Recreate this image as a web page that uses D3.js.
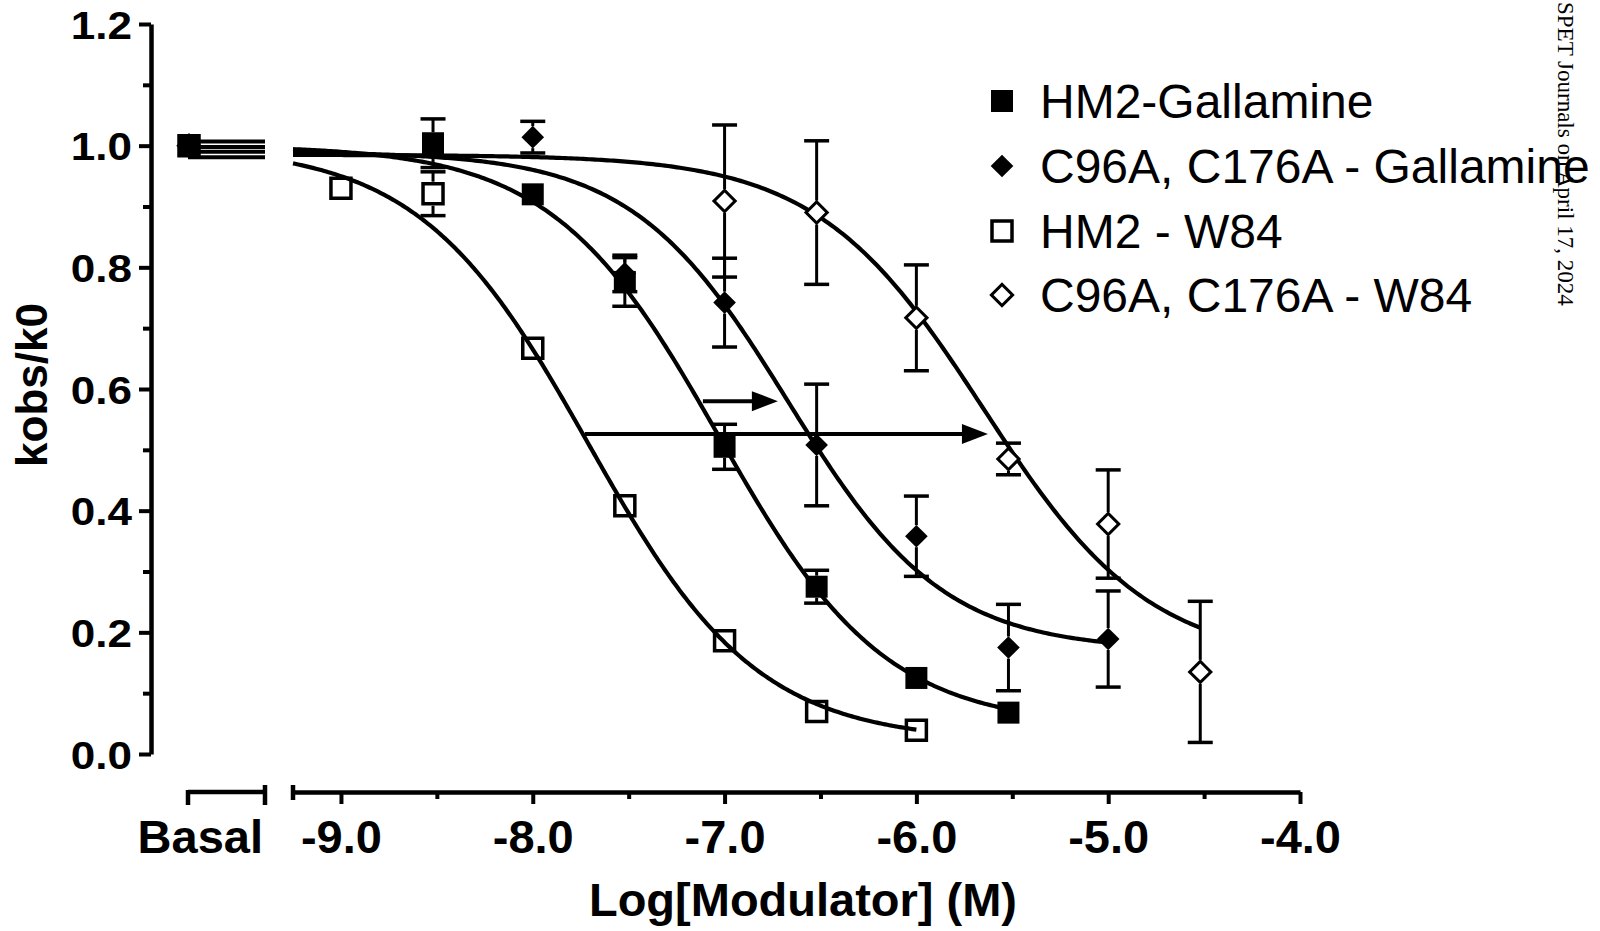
<!DOCTYPE html>
<html><head><meta charset="utf-8">
<script src="https://cdn.jsdelivr.net/npm/d3@7"></script>
<style>html,body{margin:0;padding:0;background:#fff;} svg{display:block;}</style>
</head><body><svg id="chart" width="1600" height="931"></svg>
<script>
// ---------- data ----------
const seriesNames = ["HM2-Gallamine", "C96A, C176A - Gallamine", "HM2 - W84", "C96A, C176A - W84"];
const seriesSymbols = ["squareFilled", "diamondFilled", "squareOpen", "diamondOpen"];

const hm2GalX   = [-8.52, -8.0, -7.52, -7.0, -6.52, -6.0, -5.52];
const hm2GalY   = [1.004, 0.920, 0.776, 0.505, 0.275, 0.125, 0.068];
const hm2GalErr = [0.040, 0.012, 0.040, 0.037, 0.027, 0.010, 0.008];

const c96GalX   = [-8.0, -7.52, -7.0, -6.52, -6.0, -5.52, -5.0];
const c96GalY   = [1.014, 0.790, 0.742, 0.508, 0.358, 0.175, 0.189];
const c96GalErr = [0.026, 0.030, 0.073, 0.100, 0.066, 0.071, 0.079];

const hm2W84X   = [-9.0, -8.52, -8.0, -7.52, -7.0, -6.52, -6.0];
const hm2W84Y   = [0.930, 0.921, 0.667, 0.408, 0.186, 0.070, 0.039];
const hm2W84Err = [0.0, 0.036, 0.0, 0.0, 0.0, 0.0, 0.0];

const c96W84X   = [-7.0, -6.52, -6.0, -5.52, -5.0, -4.52];
const c96W84Y   = [0.909, 0.890, 0.717, 0.485, 0.378, 0.135];
const c96W84Err = [0.125, 0.118, 0.087, 0.026, 0.089, 0.116];

const basalValues = [1.0, 1.0, 1.0, 1.0];
const basalLineValues = [1.007, 0.998, 0.990, 0.981];

// fitted sigmoid parameters
const fitTop     = [1.0, 0.99, 1.0, 0.985];
const fitBottom  = [0.045, 0.17, 0.02, 0.15];
const fitLogEC50 = [-7.03, -6.67, -7.71, -5.65];
const fitHill    = [1.0, 1.07, 0.983, 1.0];
const fitStart   = [-9.25, -9.25, -9.25, -9.25];
const fitEnd     = [-5.52, -5.0, -6.0, -4.52];

const arrowStartX = [-7.113, -7.728];
const arrowEndX   = [-6.722, -5.627];
const arrowY      = [0.580, 0.526];

const yMajorTicks = [0, 0.2, 0.4, 0.6, 0.8, 1.0, 1.2];
const yMinorTicks = [0.1, 0.3, 0.5, 0.7, 0.9, 1.1];
const xMajorTicks = [-9, -8, -7, -6, -5, -4];
const xMinorTicks = [-8.5, -7.5, -6.5, -5.5, -4.5];
const xTickLabels = ["-9.0", "-8.0", "-7.0", "-6.0", "-5.0", "-4.0"];
const basalLabel = "Basal";
const xTitle = "Log[Modulator] (M)";
const yTitle = "kobs/k0";
const watermark = "SPET Journals on April 17, 2024";

const seriesX = [hm2GalX, c96GalX, hm2W84X, c96W84X];
const seriesY = [hm2GalY, c96GalY, hm2W84Y, c96W84Y];
const seriesErr = [hm2GalErr, c96GalErr, hm2W84Err, c96W84Err];

// ---------- layout ----------
const svg = d3.select("#chart");
svg.append("rect").attr("width", 1600).attr("height", 931).attr("fill", "#fff");
const SANS = "'Liberation Sans', Arial, sans-serif";

const x = d3.scaleLinear().domain([-9.25, -4]).range([293, 1300]);
const y = d3.scaleLinear().domain([0, 1.2]).range([754, 24]);
const basalX = d3.scaleLinear().domain([0, 1]).range([188, 265]);
const xAxisY = 792;
const yAxisX = 151;

// ---------- y axis ----------
const gy = svg.append("g").attr("transform", `translate(${yAxisX},0)`);
gy.call(d3.axisLeft(y).tickValues(yMajorTicks).tickSize(12).tickSizeOuter(0)
  .tickFormat(d => d.toFixed(1)));
gy.select(".domain").attr("stroke", "#000").attr("stroke-width", 4.5);
gy.selectAll(".tick line").attr("stroke", "#000").attr("stroke-width", 4);
gy.selectAll(".tick text")
  .attr("font-family", SANS).attr("font-weight", "bold").attr("font-size", 39)
  .attr("fill", "#000").attr("text-anchor", "end")
  .attr("x", -19 / 1.13).attr("dy", "0.36em")
  .attr("transform", "scale(1.13,1)");
const gyMinor = svg.append("g").attr("transform", `translate(${yAxisX},0)`);
gyMinor.call(d3.axisLeft(y).tickValues(yMinorTicks).tickSize(8).tickSizeOuter(0).tickFormat(""));
gyMinor.select(".domain").remove();
gyMinor.selectAll(".tick line").attr("stroke", "#000").attr("stroke-width", 4);

// ---------- x axis ----------
const gx = svg.append("g").attr("transform", `translate(0,${xAxisY})`);
gx.call(d3.axisBottom(x).tickValues(xMajorTicks).tickSize(12).tickSizeOuter(0)
  .tickFormat((d, i) => xTickLabels[i]));
gx.select(".domain").attr("stroke", "#000").attr("stroke-width", 4.5);
gx.selectAll(".tick line").attr("stroke", "#000").attr("stroke-width", 4);
gx.selectAll(".tick text")
  .attr("font-family", SANS).attr("font-weight", "bold").attr("font-size", 47)
  .attr("fill", "#000").attr("y", 61).attr("dy", 0);
const gxMinor = svg.append("g").attr("transform", `translate(0,${xAxisY})`);
gxMinor.call(d3.axisBottom(x).tickValues(xMinorTicks).tickSize(7).tickSizeOuter(0).tickFormat(""));
gxMinor.select(".domain").remove();
gxMinor.selectAll(".tick line").attr("stroke", "#000").attr("stroke-width", 4);
// main segment left end cap
gx.append("line").attr("x1", x(-9.25)).attr("x2", x(-9.25)).attr("y1", -7).attr("y2", 8)
  .attr("stroke", "#000").attr("stroke-width", 4.5);

// basal segment
const gb = svg.append("g").attr("transform", `translate(0,${xAxisY})`);
gb.append("line").attr("x1", basalX(0)).attr("x2", basalX(1)).attr("y1", 0).attr("y2", 0)
  .attr("stroke", "#000").attr("stroke-width", 4.5);
gb.append("line").attr("x1", basalX(0)).attr("x2", basalX(0)).attr("y1", -2).attr("y2", 13)
  .attr("stroke", "#000").attr("stroke-width", 4.5);
gb.append("line").attr("x1", basalX(1)).attr("x2", basalX(1)).attr("y1", -7).attr("y2", 13)
  .attr("stroke", "#000").attr("stroke-width", 4.5);
gb.append("text").attr("x", basalX(1) - 2).attr("y", 61).attr("text-anchor", "end")
  .attr("font-family", SANS).attr("font-weight", "bold").attr("font-size", 47)
  .text(basalLabel);

// titles
svg.append("text").attr("x", 803).attr("y", 916).attr("text-anchor", "middle")
  .attr("font-family", SANS).attr("font-weight", "bold").attr("font-size", 47)
  .text(xTitle);
svg.append("text").attr("transform", "translate(47,385) rotate(-90)")
  .attr("text-anchor", "middle")
  .attr("font-family", SANS).attr("font-weight", "bold").attr("font-size", 44)
  .text(yTitle);

// ---------- markers ----------
function drawMarker(g, type, cx, cy) {
  if (type === "squareFilled") {
    g.append("path").attr("d", d3.symbol().type(d3.symbolSquare).size(22 * 22)())
      .attr("transform", `translate(${cx},${cy})`).attr("fill", "#000");
  } else if (type === "squareOpen") {
    g.append("path").attr("d", d3.symbol().type(d3.symbolSquare).size(20 * 20)())
      .attr("transform", `translate(${cx},${cy})`).attr("fill", "none")
      .attr("stroke", "#000").attr("stroke-width", 3.5);
  } else if (type === "diamondFilled") {
    g.append("path").attr("d", d3.symbol().type(d3.symbolSquare).size(16 * 16)())
      .attr("transform", `translate(${cx},${cy}) rotate(45)`).attr("fill", "#000");
  } else {
    g.append("path").attr("d", d3.symbol().type(d3.symbolSquare).size(15 * 15)())
      .attr("transform", `translate(${cx},${cy}) rotate(45)`).attr("fill", "#fff")
      .attr("stroke", "#000").attr("stroke-width", 3);
  }
}
const markerHalf = [11, 11, 12, 12];

// ---------- curves ----------
const gCurves = svg.append("g");
const line = d3.line().x(d => x(d[0])).y(d => y(d[1])).curve(d3.curveLinear);
for (let s = 0; s < 4; s++) {
  const pts = [];
  const n = 300;
  for (let i = 0; i <= n; i++) {
    const lx = fitStart[s] + (fitEnd[s] - fitStart[s]) * i / n;
    const v = fitBottom[s] + (fitTop[s] - fitBottom[s]) / (1 + Math.pow(10, (lx - fitLogEC50[s]) * fitHill[s]));
    pts.push([lx, v]);
  }
  gCurves.append("path").attr("d", line(pts)).attr("fill", "none")
    .attr("stroke", "#000").attr("stroke-width", 4.2);
  // basal horizontal lines
  gCurves.append("line").attr("x1", basalX(0)).attr("x2", basalX(1))
    .attr("y1", y(basalLineValues[s])).attr("y2", y(basalLineValues[s]))
    .attr("stroke", "#000").attr("stroke-width", 4);
}

// ---------- error bars and points ----------
const gPts = svg.append("g");
for (let s = 0; s < 4; s++) {
  const xs = seriesX[s], ys = seriesY[s], es = seriesErr[s];
  const h = markerHalf[s];
  for (let i = 0; i < xs.length; i++) {
    const cx = x(xs[i]), cy = y(ys[i]);
    const top = y(ys[i] + es[i]), bot = y(ys[i] - es[i]);
    if (cy - top > h + 1) {
      gPts.append("line").attr("x1", cx).attr("x2", cx).attr("y1", top).attr("y2", cy - h)
        .attr("stroke", "#000").attr("stroke-width", 3);
      gPts.append("line").attr("x1", cx - 12.5).attr("x2", cx + 12.5).attr("y1", top).attr("y2", top)
        .attr("stroke", "#000").attr("stroke-width", 3.5);
      gPts.append("line").attr("x1", cx).attr("x2", cx).attr("y1", cy + h).attr("y2", bot)
        .attr("stroke", "#000").attr("stroke-width", 3);
      gPts.append("line").attr("x1", cx - 12.5).attr("x2", cx + 12.5).attr("y1", bot).attr("y2", bot)
        .attr("stroke", "#000").attr("stroke-width", 3.5);
    }
  }
}
for (let s = 3; s >= 0; s--) {
  drawMarker(gPts, seriesSymbols[s], basalX(0) + 1, y(basalValues[s]));
}
for (let s = 0; s < 4; s++) {
  const xs = seriesX[s], ys = seriesY[s];
  for (let i = 0; i < xs.length; i++) drawMarker(gPts, seriesSymbols[s], x(xs[i]), y(ys[i]));
}

// ---------- arrows ----------
const gArr = svg.append("g");
for (let a = 0; a < arrowStartX.length; a++) {
  const x0 = x(arrowStartX[a]), x1 = x(arrowEndX[a]), ay = y(arrowY[a]);
  gArr.append("line").attr("x1", x0).attr("x2", x1 - 20).attr("y1", ay).attr("y2", ay)
    .attr("stroke", "#000").attr("stroke-width", 4);
  gArr.append("path").attr("d", `M${x1},${ay}L${x1 - 26},${ay - 10}L${x1 - 26},${ay + 10}Z`)
    .attr("fill", "#000");
}

// ---------- legend ----------
const gLeg = svg.append("g");
const legendRowsY = [101, 166, 231, 295];
for (let s = 0; s < 4; s++) {
  drawMarker(gLeg, seriesSymbols[s], 1002, legendRowsY[s]);
  gLeg.append("text").attr("x", 1040).attr("y", legendRowsY[s] + 17)
    .attr("font-family", SANS).attr("font-size", 48).attr("fill", "#000")
    .text(seriesNames[s]);
}

// ---------- watermark ----------
svg.append("text").attr("transform", "translate(1558,2) rotate(90)")
  .attr("text-anchor", "start")
  .attr("font-family", "'Liberation Serif', 'Times New Roman', serif").attr("font-size", 23)
  .attr("fill", "#000").text(watermark);
</script></body></html>
